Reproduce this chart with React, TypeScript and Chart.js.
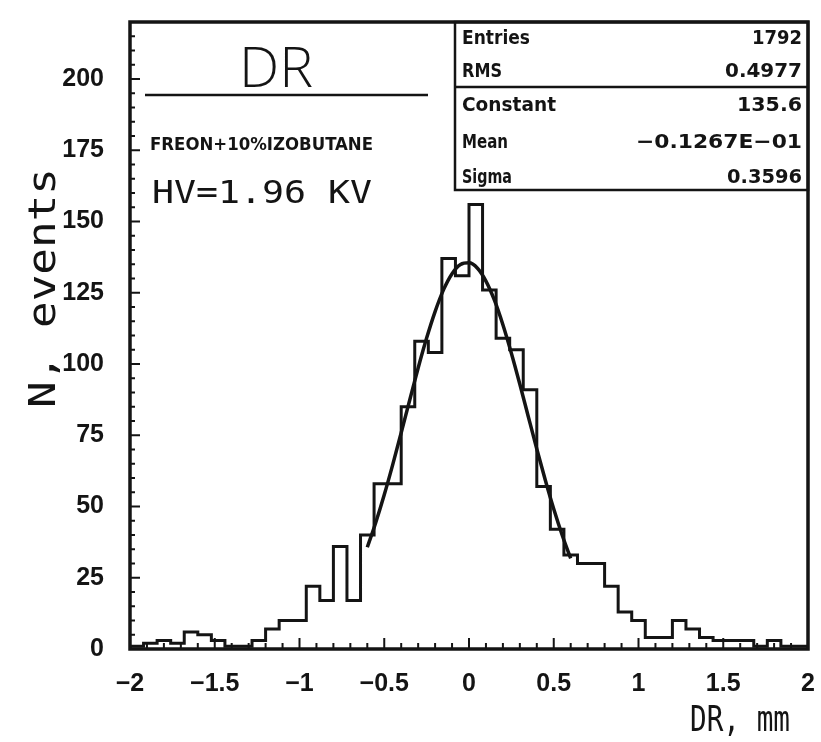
import React, { useEffect, useRef } from "react";
import { Chart, registerables } from "chart.js";

Chart.register(...registerables);

// ---- data ----
const BIN_LOW = -2;
const BIN_WIDTH = 0.08;
const binCounts = [
  1, 2, 3, 2, 6, 5, 3, 1, 1, 3,
  7, 10, 10, 22, 17, 36, 17, 40, 58, 58,
  85, 108, 104, 137, 131, 156, 126, 109, 105, 91,
  57, 42, 33, 30, 30, 22, 13, 10, 4, 4,
  10, 7, 4, 3, 3, 3, 1, 3, 1, 1,
];
// gaussian fit curve, sampled points
const fitX = [
  -0.6, -0.55, -0.5, -0.45, -0.4, -0.35, -0.3, -0.25, -0.2, -0.15, -0.1, -0.05,
  0, 0.05, 0.1, 0.15, 0.2, 0.25, 0.3, 0.35, 0.4, 0.45, 0.5, 0.55, 0.6,
];
const fitY = [
  35.7, 44.4, 54.1, 64.7, 75.9, 87.3, 98.6, 109.1, 118.4, 126.1, 131.7, 134.9,
  135.5, 133.6, 129.1, 122.4, 113.8, 103.8, 92.9, 81.5, 70.2, 59.3, 49.1, 39.9, 31.8,
];
const X_MIN = -2;
const X_MAX = 2;
const Y_MIN = 0;
const Y_MAX = 220;
const Y_LABEL_MAX = 200;
const statsLabels1 = ["Entries", "RMS"];
const statsValues1 = ["1792", "0.4977"];
const statsLabels2 = ["Constant", "Mean", "Sigma"];
const statsValues2 = ["135.6", "\u22120.1267E\u221201", "0.3596"];
const titleText = "DR";
const gasText = "FREON+10%IZOBUTANE";
const hvText = "HV=1.96 KV";
const yTitle = "N, events";
const xTitle = "DR, mm";

const INK = "#141414";

function fitText(
  ctx: CanvasRenderingContext2D,
  text: string,
  x: number,
  y: number,
  width: number,
  font: string,
  align: CanvasTextAlign
) {
  ctx.font = font;
  const w = ctx.measureText(text).width;
  const s = width / w;
  ctx.save();
  ctx.translate(x, y);
  ctx.scale(s, 1);
  ctx.textAlign = align;
  ctx.textBaseline = "alphabetic";
  ctx.fillText(text, 0, 0);
  ctx.restore();
}

const overlay = {
  id: "overlay",
  afterDraw(chart: any) {
    const { ctx, chartArea: a, scales } = chart;
    const xs = scales.x;
    const ys = scales.y;
    ctx.save();
    ctx.strokeStyle = INK;
    ctx.fillStyle = INK;

    // inward tick marks
    ctx.lineWidth = 2;
    ctx.beginPath();
    for (let k = 0; k <= (Y_MAX - Y_MIN) / 5; k++) {
      const v = Y_MIN + k * 5;
      const y = ys.getPixelForValue(v);
      const len = v % 25 === 0 ? 10 : 5;
      ctx.moveTo(a.left, y);
      ctx.lineTo(a.left + len, y);
    }
    for (let k = 0; k <= 40; k++) {
      const v = X_MIN + k * 0.1;
      const x = xs.getPixelForValue(v);
      const len = k % 5 === 0 ? 11 : 6;
      ctx.moveTo(x, a.bottom);
      ctx.lineTo(x, a.bottom - len);
    }
    ctx.stroke();

    // frame
    ctx.lineWidth = 3.5;
    ctx.strokeRect(a.left, a.top, a.right - a.left, a.bottom - a.top);

    // title block
    fitText(ctx, titleText, 276, 87, 74, '300 55px "Open Sans"', "center");
    ctx.lineWidth = 2.5;
    ctx.beginPath();
    ctx.moveTo(145, 95);
    ctx.lineTo(428, 95);
    ctx.stroke();
    fitText(ctx, gasText, 150, 150, 223, 'bold 17px "DejaVu Sans Condensed"', "left");
    fitText(ctx, hvText, 152, 203, 220, '32px "DejaVu Sans Mono"', "left");

    // stats box
    const bx = 455;
    const bRight = a.right;
    const bTop = a.top;
    const bMid = 87;
    const bBot = 190;
    ctx.lineWidth = 2.5;
    ctx.strokeRect(bx, bTop, bRight - bx, bBot - bTop);
    ctx.beginPath();
    ctx.moveTo(bx, bMid);
    ctx.lineTo(bRight, bMid);
    ctx.stroke();
    const f = 'bold 20px "DejaVu Sans"';
    const lw1 = [68, 40];
    const vw1 = [50, 77];
    const by1 = [44, 77];
    statsLabels1.forEach((t, i) => fitText(ctx, t, 462, by1[i], lw1[i], f, "left"));
    statsValues1.forEach((t, i) => fitText(ctx, t, 802, by1[i], vw1[i], f, "right"));
    const lw2 = [94, 46, 50];
    const vw2 = [65, 166, 75];
    const by2 = [111, 148, 183];
    statsLabels2.forEach((t, i) => fitText(ctx, t, 462, by2[i], lw2[i], f, "left"));
    statsValues2.forEach((t, i) => fitText(ctx, t, 802, by2[i], vw2[i], f, "right"));

    // axis titles
    ctx.save();
    ctx.translate(55, 288);
    ctx.rotate(-Math.PI / 2);
    fitText(ctx, yTitle, 0, 0, 240, '37px "DejaVu Sans Mono"', "center");
    ctx.restore();
    fitText(ctx, xTitle, 740, 731, 100, '36px "DejaVu Sans Mono"', "center");

    ctx.restore();
  },
};

function fmt(v: number) {
  const s = String(Math.abs(v));
  return v < 0 ? "\u2212" + s : s;
}

export default function App() {
  const ref = useRef<HTMLCanvasElement | null>(null);
  useEffect(() => {
    if (!ref.current) return;
    const histData: { x: number; y: number }[] = [{ x: BIN_LOW, y: 0 }];
    binCounts.forEach((c, i) => histData.push({ x: BIN_LOW + i * BIN_WIDTH, y: c }));
    histData.push({ x: BIN_LOW + binCounts.length * BIN_WIDTH, y: binCounts[binCounts.length - 1] });
    histData.push({ x: BIN_LOW + binCounts.length * BIN_WIDTH, y: 0 });
    const fitData = fitX.map((x, i) => ({ x, y: fitY[i] }));

    const chart = new Chart(ref.current, {
      type: "line",
      data: {
        datasets: [
          {
            label: "DR",
            data: histData,
            stepped: "before",
            borderColor: INK,
            borderWidth: 3,
            pointRadius: 0,
            fill: false,
          },
          {
            label: "fit",
            data: fitData,
            borderColor: INK,
            borderWidth: 3.5,
            pointRadius: 0,
            cubicInterpolationMode: "monotone",
            fill: false,
          },
        ],
      },
      options: {
        animation: false,
        responsive: false,
        layout: { padding: { left: 0, top: 22, right: 13, bottom: 0 } },
        plugins: { legend: { display: false }, tooltip: { enabled: false } },
        scales: {
          x: {
            type: "linear",
            min: X_MIN,
            max: X_MAX,
            grid: { display: false, drawTicks: false },
            border: { display: false },
            ticks: {
              stepSize: 0.5,
              maxRotation: 0,
              autoSkip: false,
              padding: 20,
              color: INK,
              font: { family: "Liberation Sans", size: 25, weight: "bold" },
              callback: (v: any) => fmt(Number(v)),
            },
            afterFit: (s: any) => {
              s.height = 93;
              s.paddingLeft = 0;
              s.paddingRight = 0;
            },
          },
          y: {
            type: "linear",
            min: Y_MIN,
            max: Y_MAX,
            grid: { display: false, drawTicks: false },
            border: { display: false },
            ticks: {
              stepSize: 25,
              includeBounds: false,
              autoSkip: false,
              padding: 26,
              color: INK,
              font: { family: "Liberation Sans", size: 25, weight: "bold" },
              callback: (v: any) => (Number(v) > Y_LABEL_MAX ? "" : String(v)),
            },
            afterFit: (s: any) => {
              s.width = 130;
              s.paddingTop = 0;
              s.paddingBottom = 0;
            },
          },
        },
      },
      plugins: [overlay],
    });
    return () => chart.destroy();
  }, []);

  return (
    <div style={{ position: "fixed", left: 0, top: 0, width: 821, height: 742, background: "#fff" }}>
      <canvas ref={ref} width={821} height={742} />
    </div>
  );
}
